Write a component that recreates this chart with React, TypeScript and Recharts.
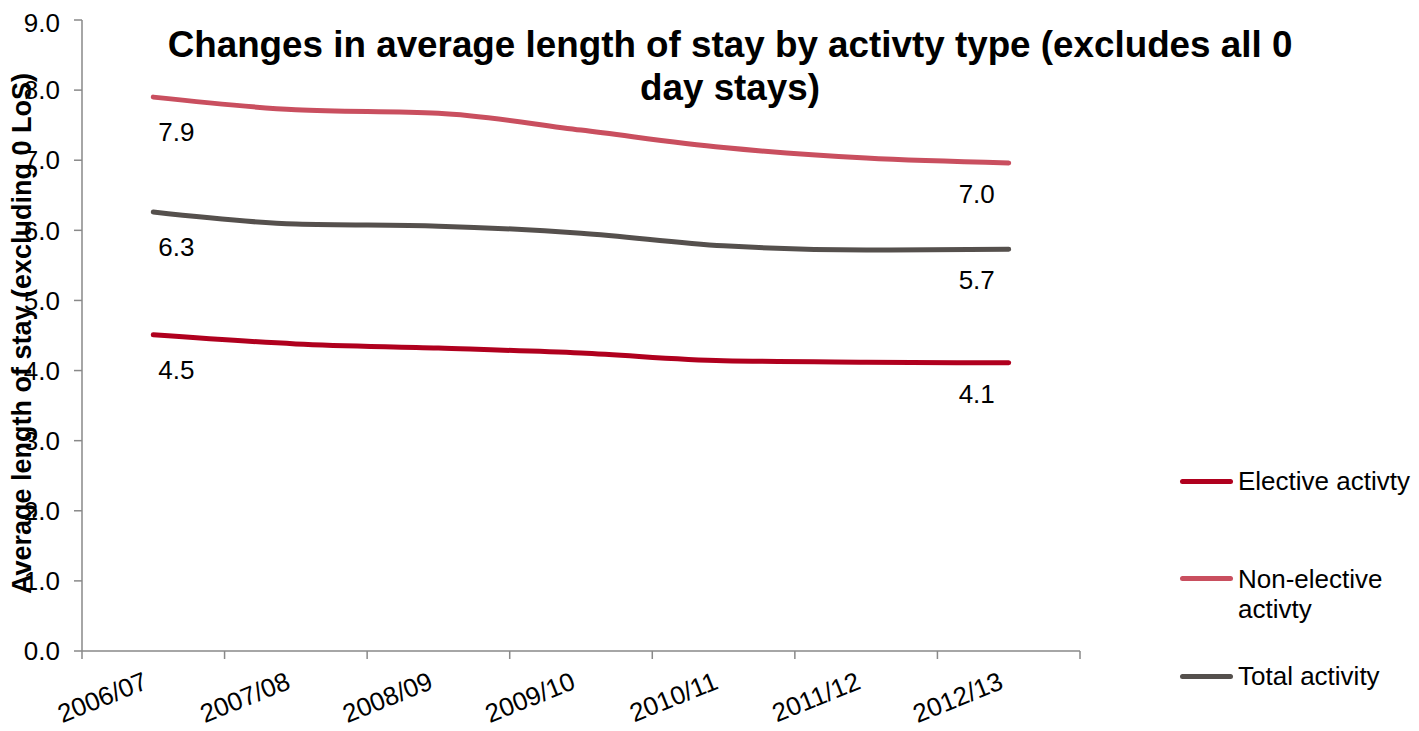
import React from 'react';
import { LineChart, Line, XAxis, YAxis, Legend, LabelList } from 'recharts';

const categories = ['2006/07', '2007/08', '2008/09', '2009/10', '2010/11', '2011/12', '2012/13'];
const elective = [4.51, 4.38, 4.32, 4.25, 4.14, 4.12, 4.11];
const nonElective = [7.9, 7.72, 7.67, 7.43, 7.18, 7.03, 6.96];
const total = [6.26, 6.09, 6.06, 5.96, 5.78, 5.72, 5.73];
const yTicks = [0, 1, 2, 3, 4, 5, 6, 7, 8, 9];

const series = [
  { key: 'elective', name: 'Elective activty', color: '#B0001E', values: elective },
  { key: 'nonElective', name: 'Non-elective activty', color: '#C94F5F', values: nonElective },
  { key: 'total', name: 'Total activity', color: '#55504D', values: total },
];

const data = categories.map((cat, i) => ({
  cat,
  elective: elective[i],
  nonElective: nonElective[i],
  total: total[i],
}));

const W = 1403;
const H = 723;
const FONT = '"Liberation Sans", Arial, sans-serif';
const AXIS = '#898989';
const PLOT_W = 998;
const BAND = PLOT_W / categories.length;
const FS = 26;

const XTick = (props: any) => {
  const { x, y, payload, index } = props;
  const tx = x - 4;
  const ty = y + 37;
  return (
    <g>
      <line x1={x - BAND / 2} x2={x - BAND / 2} y1={y} y2={y + 8} stroke={AXIS} strokeWidth={1.5} />
      {index === categories.length - 1 && (
        <line x1={x + BAND / 2} x2={x + BAND / 2} y1={y} y2={y + 8} stroke={AXIS} strokeWidth={1.5} />
      )}
      <text
        x={tx}
        y={ty}
        textAnchor="end"
        transform={`rotate(-22 ${tx} ${ty})`}
        fontSize={FS}
        fontFamily={FONT}
        fill="#000"
      >
        {payload.value}
      </text>
    </g>
  );
};

const EndLabel = (props: any) => {
  const { x, y, value, index } = props;
  const last = categories.length - 1;
  if (index !== 0 && index !== last) return null;
  const cx = index === 0 ? x + 23 : x - 32;
  const cy = index === 0 ? y + 35 : y + 31;
  return (
    <text x={cx} y={cy + 9} textAnchor="middle" fontSize={FS} fontFamily={FONT} fill="#000">
      {Number(value).toFixed(1)}
    </text>
  );
};

const LegendBox = () => (
  <div style={{ position: 'relative', width: 239, height: H, fontFamily: FONT, fontSize: FS }}>
    {series.map((s, i) => (
      <div
        key={s.key}
        style={{ position: 'absolute', left: 0, top: 473 + i * 97.5 - 15, display: 'flex', alignItems: 'flex-start' }}
      >
        <div style={{ width: 53, height: 5, marginLeft: 8, marginTop: 12.5, background: s.color, borderRadius: 3 }} />
        <div style={{ width: 176, marginLeft: 5, lineHeight: '30px', color: '#000' }}>{s.name}</div>
      </div>
    ))}
  </div>
);

const YLabel = (props: any) => {
  const { viewBox } = props;
  const cy = viewBox.y + viewBox.height / 2 - 2;
  const cx = 14;
  return (
    <text
      x={cx}
      y={cy}
      transform={`rotate(-90 ${cx} ${cy})`}
      textAnchor="middle"
      dominantBaseline="central"
      fontSize={27}
      fontWeight="bold"
      fontFamily={FONT}
      fill="#000"
    >
      Average length of stay (excluding 0 LoS)
    </text>
  );
};

export default function App() {
  return (
    <div style={{ position: 'relative', width: W, height: H, fontFamily: FONT }}>
      <LineChart width={W} height={H} data={data} margin={{ top: 12, right: 92, left: 0, bottom: 20 }}>
        <XAxis
          dataKey="cat"
          scale="band"
          interval={0}
          height={60}
          stroke={AXIS}
          strokeWidth={1.5}
          tickLine={false}
          tickSize={0}
          tickMargin={0}
          tick={<XTick />}
        />
        <YAxis
          domain={[0, 9]}
          ticks={yTicks}
          width={74}
          stroke={AXIS}
          strokeWidth={1.5}
          tickSize={8}
          tickMargin={14}
          tickFormatter={(v: number) => v.toFixed(1)}
          tick={{ fontSize: FS, fill: '#000', fontFamily: FONT }}
          label={{ content: <YLabel /> }}
        />
        <Legend
          layout="vertical"
          align="right"
          verticalAlign="top"
          content={<LegendBox />}
          wrapperStyle={{ left: 1164, top: 0, width: 239, height: H }}
        />
        {series.map((s) => (
          <Line
            key={s.key}
            type="monotone"
            dataKey={s.key}
            name={s.name}
            stroke={s.color}
            strokeWidth={5}
            strokeLinecap="round"
            dot={false}
            activeDot={false}
            isAnimationActive={false}
          >
            <LabelList dataKey={s.key} content={<EndLabel />} />
          </Line>
        ))}
      </LineChart>
      <div
        style={{
          position: 'absolute',
          left: 122,
          top: 15,
          width: 1200,
          textAlign: 'center',
          fontSize: 36.8,
          fontWeight: 'bold',
          lineHeight: '43px',
          color: '#000',
          pointerEvents: 'none',
        }}
      >
        Changes in average length of stay by activty type (excludes all 0
        <br />
        day stays)
      </div>
    </div>
  );
}
